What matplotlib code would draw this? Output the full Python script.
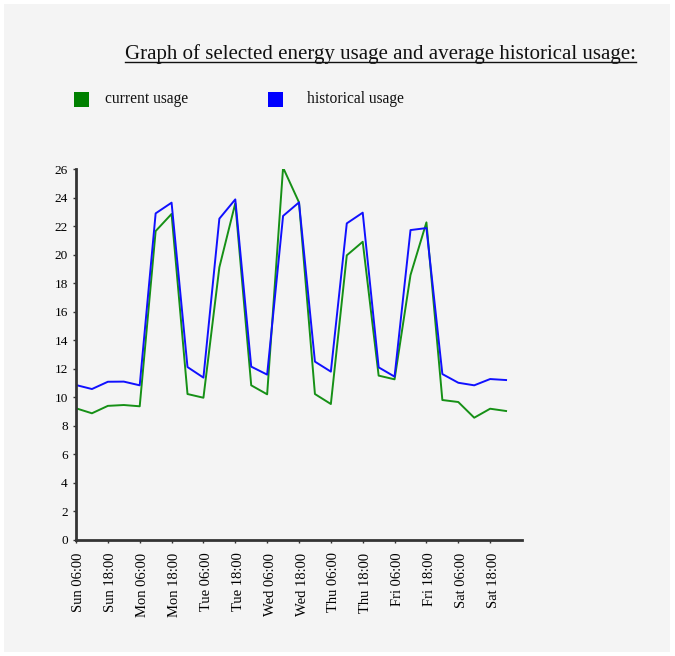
import matplotlib
matplotlib.use("Agg")
import matplotlib.pyplot as plt
from matplotlib.patches import Rectangle
from matplotlib.lines import Line2D
from matplotlib.transforms import ScaledTranslation

# readings every 6 hours, Sun 06:00 .. Sat 24:00
current_usage = [9.23, 8.88, 9.40, 9.46, 9.37, 21.65, 22.85, 10.23, 9.97, 19.11,
                 23.60, 10.84, 10.21, 26.10, 23.66, 10.23, 9.53, 19.95, 20.90, 11.52,
                 11.26, 18.57, 22.26, 9.81, 9.67, 8.57, 9.20, 9.04]
historical_usage = [10.86, 10.58, 11.09, 11.10, 10.84, 22.89, 23.64, 12.12, 11.38, 22.52,
                    23.87, 12.15, 11.59, 22.71, 23.66, 12.50, 11.80, 22.19, 22.94, 12.10,
                    11.45, 21.72, 21.86, 11.63, 11.02, 10.84, 11.28, 11.21]
tick_labels = ["Sun 06:00", "Sun 18:00", "Mon 06:00", "Mon 18:00", "Tue 06:00",
               "Tue 18:00", "Wed 06:00", "Wed 18:00", "Thu 06:00", "Thu 18:00",
               "Fri 06:00", "Fri 18:00", "Sat 06:00", "Sat 18:00"]
y_ticks = list(range(0, 27, 2))

W, H = 675, 656
bg = "#f4f4f4"
serif = ["Liberation Serif", "DejaVu Serif"]

fig = plt.figure(figsize=(W / 100, H / 100), dpi=100, facecolor="white")
# grey panel
fig.add_artist(Rectangle((4 / W, 1 - 652 / H), 666 / W, 648 / H,
                         transform=fig.transFigure, facecolor=bg, edgecolor="none", zorder=-10))

ax = fig.add_axes([76 / W, 1 - 540 / H, 446 / W, 371 / H])
ax.set_facecolor(bg)

x = list(range(len(current_usage)))
ax.plot(x, current_usage, color="#169016", lw=1.4)
ax.plot(x, historical_usage, color="#1010ff", lw=1.4)

ax.set_xlim(0, 28)
ax.set_ylim(0, 26)
ax.set_xticks(range(0, 28, 2))
ax.set_xticklabels(tick_labels, rotation=90, family=serif, fontsize=10.5)
ax.set_yticks(y_ticks)
ax.set_yticklabels([str(v) for v in y_ticks], family=serif, fontsize=9.5)
ax.tick_params(axis="both", length=2, width=1, color="#333333", pad=4)
ax.tick_params(axis="x", pad=7)
shift = ScaledTranslation(3 / 100, 0, fig.dpi_scale_trans)
for lab in ax.get_xticklabels():
    lab.set_transform(lab.get_transform() + shift)

for s in ("top", "right"):
    ax.spines[s].set_visible(False)
for s in ("left", "bottom"):
    ax.spines[s].set_linewidth(2)
    ax.spines[s].set_color("#333333")

# title with underline
title = fig.text(380.5 / W, 1 - 59 / H, "Graph of selected energy usage and average historical usage:",
                 ha="center", va="baseline", family=serif, fontsize=15, color="#111111")
fig.canvas.draw()
bb = title.get_window_extent().transformed(fig.transFigure.inverted())
fig.add_artist(Line2D([bb.x0, bb.x1], [1 - 62 / H, 1 - 62 / H], transform=fig.transFigure,
                      color="#111111", lw=1))

# legend
for (x0, txt_x, label, col) in [(74, 105, "current usage", "#008000"),
                                (268, 307, "historical usage", "#0000ff")]:
    fig.add_artist(Rectangle((x0 / W, 1 - 107 / H), 15 / W, 15 / H, transform=fig.transFigure,
                             facecolor=col, edgecolor="none"))
    fig.text(txt_x / W, 1 - 103 / H, label, ha="left", va="baseline", family=serif,
             fontsize=11.2, color="#111111")

fig.savefig("out.png", dpi=100, facecolor="white")
